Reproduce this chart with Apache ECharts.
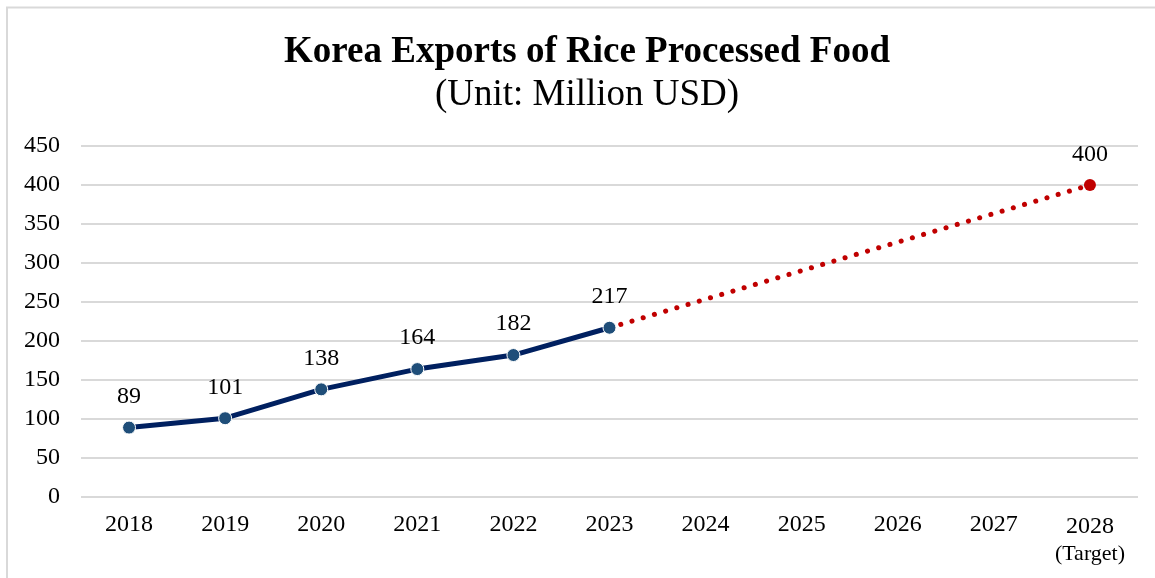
<!DOCTYPE html>
<html><head><meta charset="utf-8">
<script src="https://cdn.jsdelivr.net/npm/echarts@6/dist/echarts.min.js"></script>
<style>html,body{margin:0;padding:0;background:#fff}#c{width:1155px;height:578px}</style>
</head><body><div id="c"></div>
<script>
const years = ['2018','2019','2020','2021','2022','2023','2024','2025','2026','2027','2028'];
const actual = [89, 101, 138, 164, 182, 217, null, null, null, null, null];
const targetStartIndex = 5;
const targetValue = 400;
const yTicks = [0, 50, 100, 150, 200, 250, 300, 350, 400, 450];

const targetData = years.map((y, i) => {
  if (i === targetStartIndex) return { value: actual[i], symbol: 'none', label: { show: false } };
  if (i === years.length - 1) return targetValue;
  return null;
});

const chart = echarts.init(document.getElementById('c'));
const serif = '"Liberation Serif", "Times New Roman", serif';
chart.setOption({
  animation: false,
  textStyle: { fontFamily: serif },
  graphic: [{
    type: 'rect', silent: true,
    shape: { x: 7, y: 7.5, width: 1300, height: 700 },
    style: { fill: 'none', stroke: '#d9d9d9', lineWidth: 2 }
  }, {
    type: 'text', silent: true, x: 587, y: 52,
    style: { text: 'Korea Exports of Rice Processed Food', align: 'center', verticalAlign: 'middle',
             font: 'bold 37px "Liberation Serif", "Times New Roman", serif', fill: '#000' }
  }, {
    type: 'text', silent: true, x: 587, y: 95,
    style: { text: '(Unit: Million USD)', align: 'center', verticalAlign: 'middle',
             font: '37px "Liberation Serif", "Times New Roman", serif', fill: '#000' }
  }],
  grid: { left: 81, right: 17, top: 146, bottom: 81, containLabel: false },
  xAxis: {
    type: 'category', data: years, boundaryGap: true,
    axisLine: { show: false }, axisTick: { show: false },
    axisLabel: {
      interval: 0, margin: 16, color: '#000', fontFamily: serif, fontSize: 24,
      formatter: v => v === '2028' ? '{a|2028}\n{b|(Target)}' : v,
      rich: { a: { fontSize: 24, fontFamily: serif, color: '#000', lineHeight: 28 },
              b: { fontSize: 22, fontFamily: serif, color: '#000', lineHeight: 26 } }
    }
  },
  yAxis: {
    type: 'value', min: yTicks[0], max: yTicks[yTicks.length - 1], interval: 50,
    axisLine: { show: false }, axisTick: { show: false },
    axisLabel: { margin: 21, color: '#000', fontFamily: serif, fontSize: 24 },
    splitLine: { lineStyle: { color: '#d9d9d9', width: 2 } }
  },
  series: [{
    name: 'Target', type: 'line', data: targetData, connectNulls: true,
    symbol: 'circle', symbolSize: 12,
    itemStyle: { color: '#c00000' },
    lineStyle: { color: '#c00000', width: 5, type: [0.1, 11.6], cap: 'round' },
    label: { show: true, position: 'top', distance: 12, color: '#000', fontFamily: serif, fontSize: 24 },
    z: 2
  }, {
    name: 'Actual', type: 'line', data: actual,
    symbol: 'circle', symbolSize: 13,
    itemStyle: { color: '#1f4e79', borderColor: '#fff', borderWidth: 1 },
    lineStyle: { color: '#002060', width: 5 },
    label: { show: true, position: 'top', distance: 12, color: '#000', fontFamily: serif, fontSize: 24 },
    z: 3
  }]
});
</script></body></html>
